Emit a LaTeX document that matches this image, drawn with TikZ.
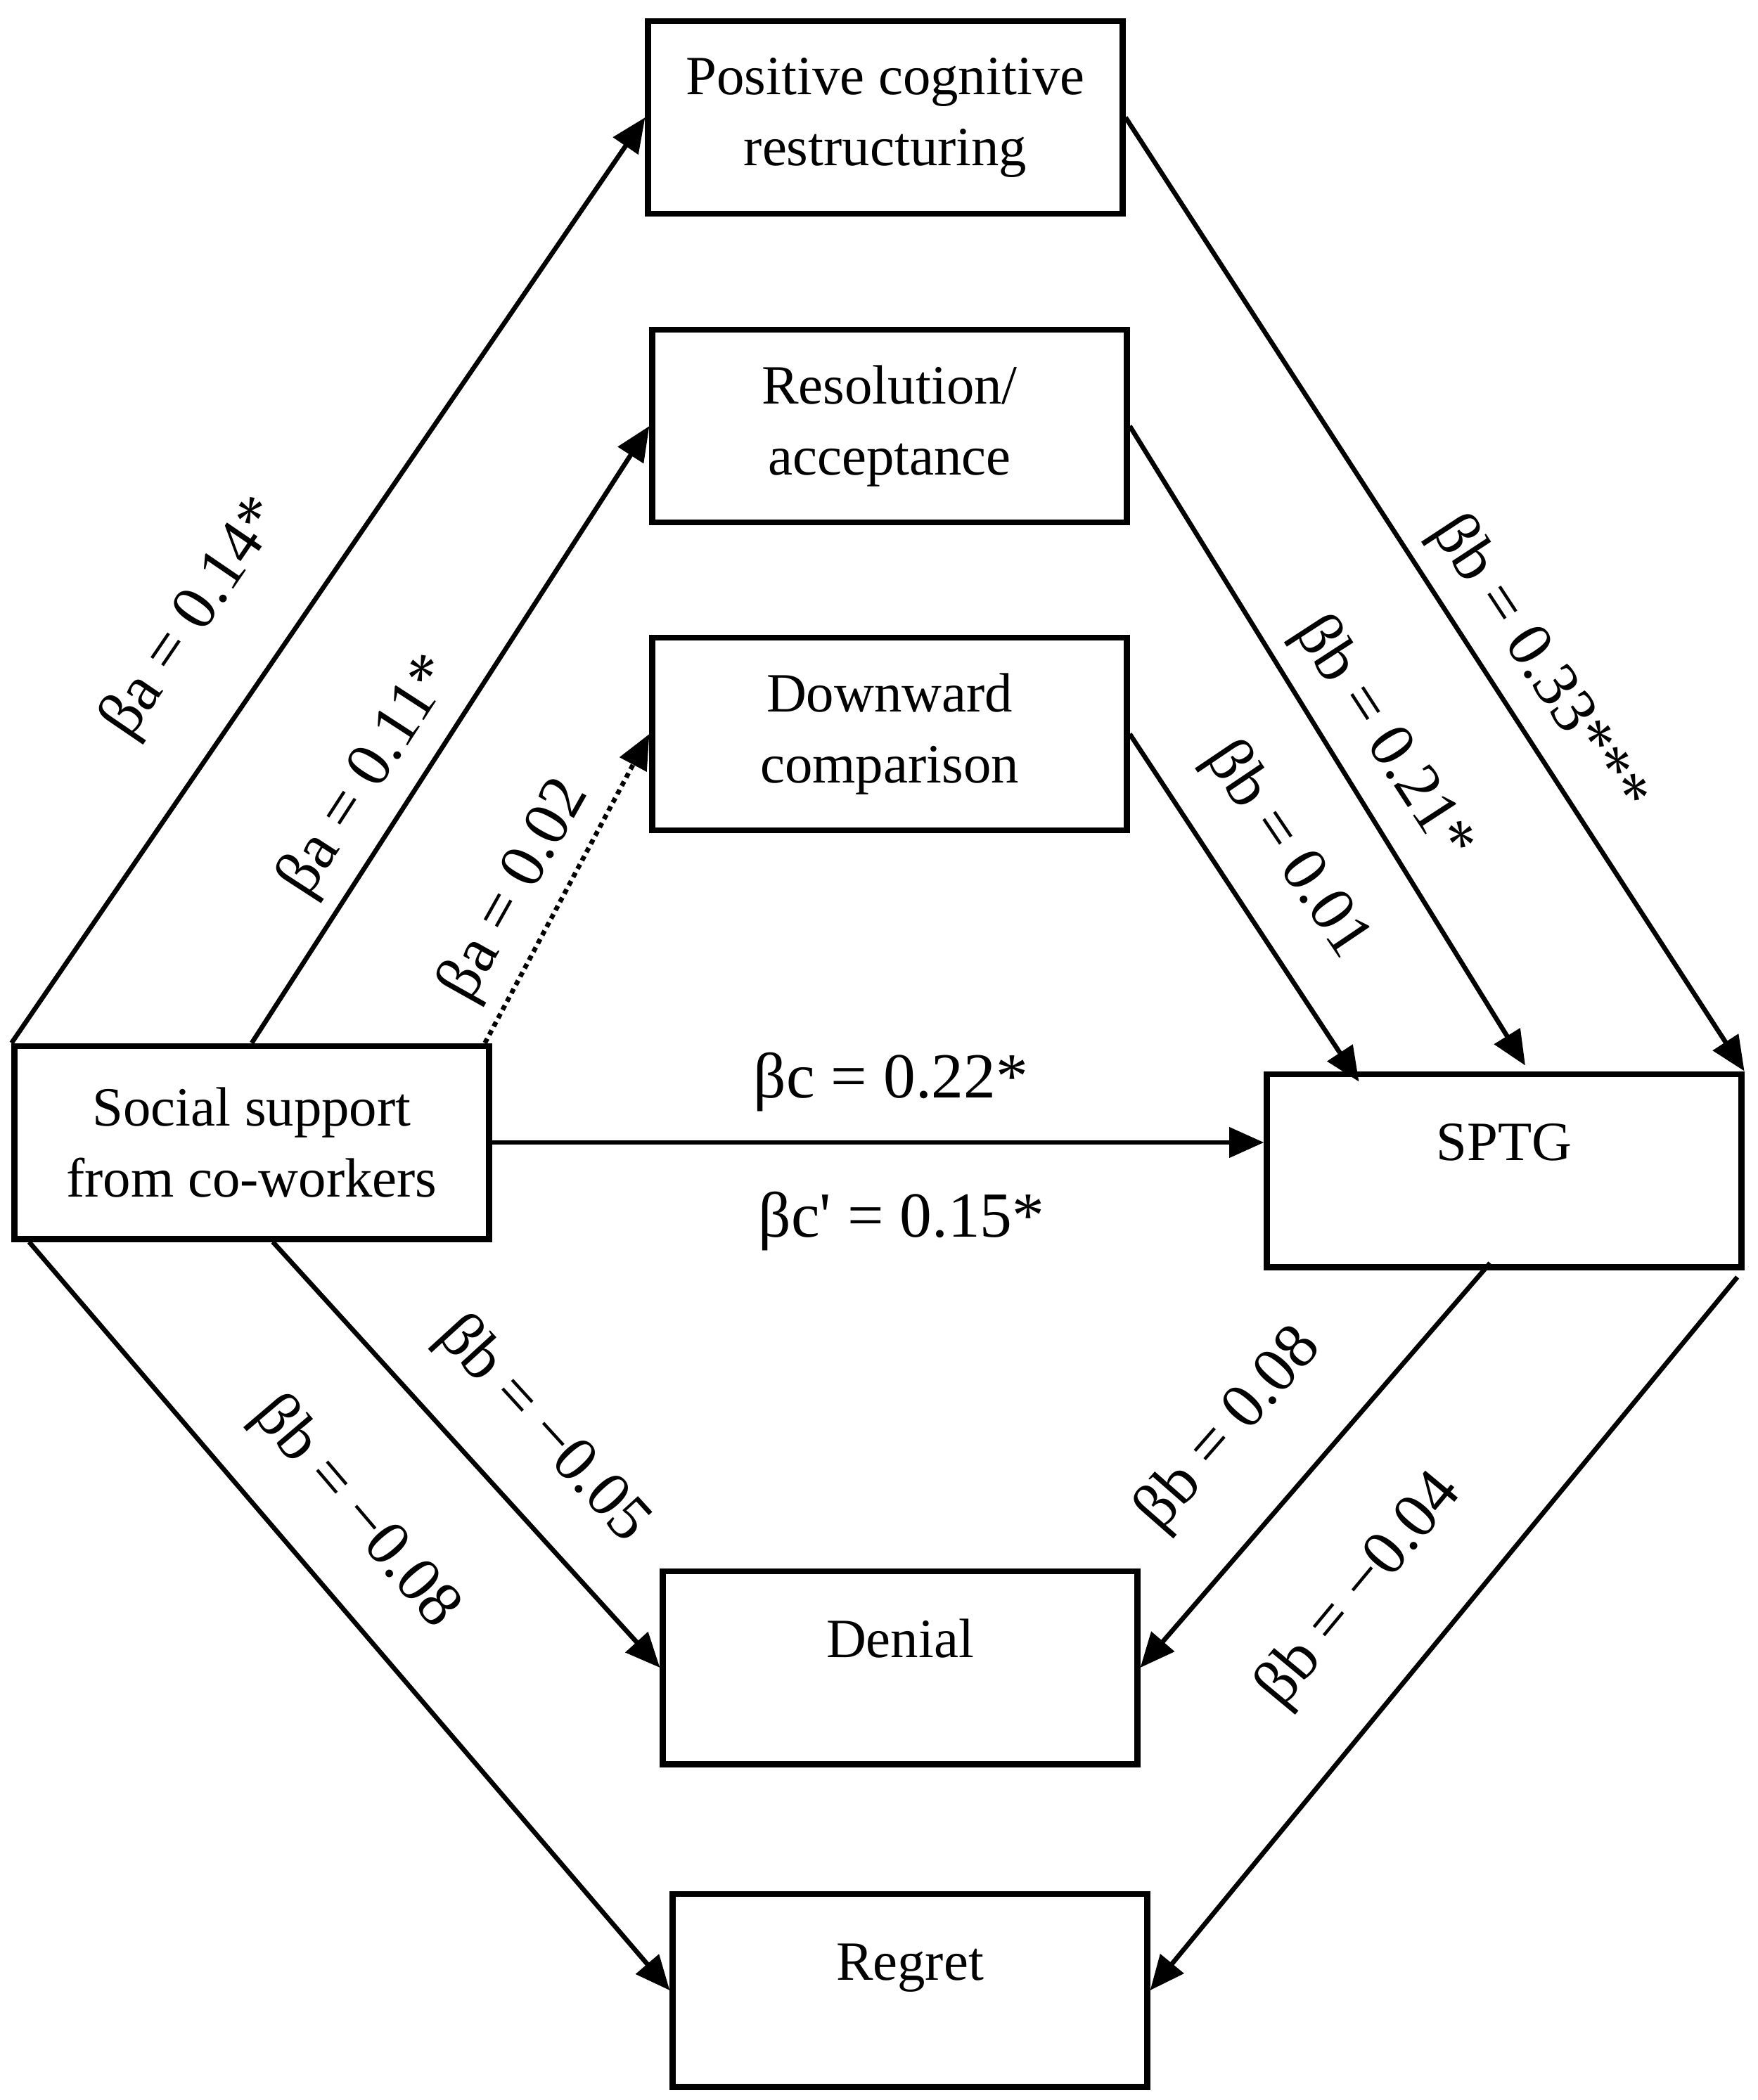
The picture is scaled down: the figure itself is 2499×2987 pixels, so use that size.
\documentclass[tikz,border=0pt]{standalone}
\usepackage{fontspec}
\setmainfont{Liberation Serif}
\usetikzlibrary{arrows.meta}

\begin{document}
\begin{tikzpicture}[x=0.01cm,y=-0.01cm,
  box/.style={draw,line width=2.5pt,minimum width=6.74cm,minimum height=2.74cm,
    align=center,inner sep=0pt,font=\fontsize{22.4}{28.7}\selectfont},
  onebox/.style={box,text height=0.6cm,text depth=0.9cm},
  link/.style={line width=1.9pt,-{Triangle[length=14pt,width=12pt]}},
  coef/.style={font=\fontsize{26}{30}\selectfont,inner sep=0pt}]
\useasboundingbox (0,0) rectangle (2499,2987);

\node[box] (pcr) at (1259,167) {Positive cognitive\\restructuring};
\node[box] (ra) at (1265,606) {Resolution/\\acceptance};
\node[box] (dc) at (1265,1044) {Downward\\comparison};
\node[box] (ss) at (358,1625) {Social support\\from co-workers};
\node[onebox] (sptg) at (2139,1665) {SPTG};
\node[onebox] (den) at (1280,2372) {Denial};
\node[onebox] (reg) at (1294,2831) {Regret};

\draw[link] (ss.north west) -- (pcr.west);
\draw[link] (ss.north) -- (ra.west);
\draw[link,dash pattern=on 2pt off 1.8pt] ([xshift=-0.1cm]ss.north east) -- (dc.west);
\draw[link] (ss.east) -- (ss.east -| sptg.west);
\draw[link] (pcr.east) -- (sptg.north east);
\draw[link] (ra.east) -- ([xshift=0.3cm,yshift=0.08cm]sptg.north);
\draw[link] (dc.east) -- ([xshift=1.35cm,yshift=-0.15cm]sptg.north west);
\draw[link] ([xshift=0.3cm]ss.south) -- (den.west);
\draw[link] ([xshift=0.25cm]ss.south west) -- (reg.west);
\draw[link] ([xshift=-0.2cm,yshift=0.1cm]sptg.south) -- (den.east);
\draw[link] ([xshift=-0.1cm,yshift=-0.1cm]sptg.south east) -- (reg.east);

\node[coef,rotate=55.7] (a1) at (276,880) {βa = 0.14*};
\node[coef,rotate=57] (a2) at (524,1105) {βa = 0.11*};
\node[coef,rotate=60.7] (a3) at (733,1267) {βa = 0.02};
\node[coef] (c) at (1267,1539) {βc = 0.22*};
\node[coef] (cp) at (1282,1737) {βc\textquotesingle{} = 0.15*};
\node[coef,rotate=-56] (b1) at (1829,1210) {βb = 0.01};
\node[coef,rotate=-57] (b2) at (1966,1052) {βb = 0.21*};
\node[coef,rotate=-56.7] (b3) at (2187,947) {βb = 0.33***};
\node[coef,rotate=-47.6] (b4) at (771,2034) {βb = −0.05};
\node[coef,rotate=-49.6] (b5) at (505,2152) {βb = −0.08};
\node[coef,rotate=48.8] (b6) at (1749,2034) {βb = 0.08};
\node[coef,rotate=50.3] (b7) at (1934,2263) {βb = −0.04};
\end{tikzpicture}
\end{document}
